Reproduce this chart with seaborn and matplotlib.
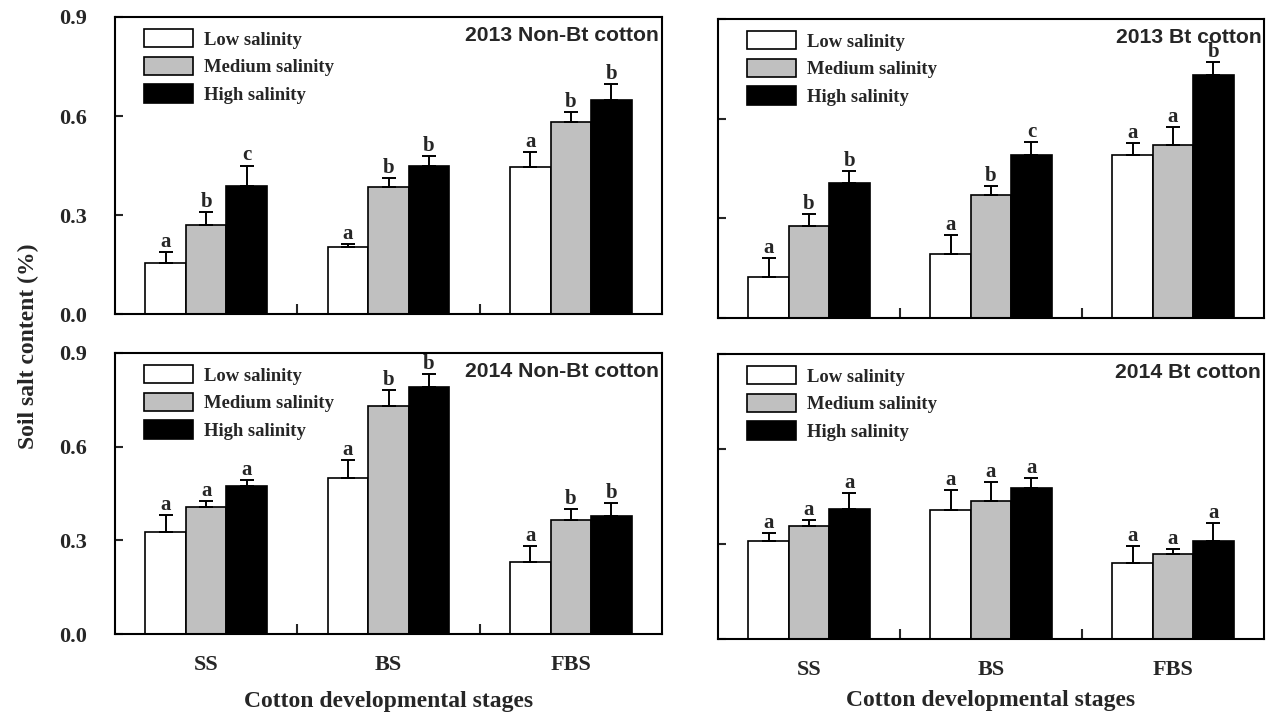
import numpy as np
import pandas as pd
import matplotlib
matplotlib.use("Agg")
import matplotlib.pyplot as plt
import seaborn as sns
from matplotlib.patches import Patch

# ---------------- data ----------------
stages = ["SS", "BS", "FBS"]
salinity_levels = ["Low salinity", "Medium salinity", "High salinity"]
bar_colors = ["#ffffff", "#c0c0c0", "#000000"]
panel_titles = ["2013 Non-Bt cotton", "2013 Bt cotton", "2014 Non-Bt cotton", "2014 Bt cotton"]
yticks = [0.0, 0.3, 0.6, 0.9]

# rows: Low, Medium, High salinity ; columns: SS, BS, FBS
mean_2013_nonbt = [[0.155, 0.203, 0.444], [0.271, 0.386, 0.582], [0.388, 0.448, 0.648]]
err_2013_nonbt = [[0.033, 0.009, 0.047], [0.037, 0.026, 0.030], [0.062, 0.030, 0.048]]
letters_2013_nonbt = [["a", "a", "a"], ["b", "b", "b"], ["c", "b", "b"]]

mean_2013_bt = [[0.123, 0.194, 0.492], [0.278, 0.370, 0.520], [0.405, 0.492, 0.730]]
err_2013_bt = [[0.058, 0.057, 0.034], [0.034, 0.027, 0.056], [0.038, 0.038, 0.042]]
letters_2013_bt = [["a", "a", "a"], ["b", "b", "a"], ["b", "c", "b"]]

mean_2014_nonbt = [[0.328, 0.499, 0.230], [0.407, 0.731, 0.365], [0.473, 0.791, 0.378]]
err_2014_nonbt = [[0.053, 0.057, 0.051], [0.020, 0.051, 0.034], [0.020, 0.041, 0.042]]
letters_2014_nonbt = [["a", "a", "a"], ["a", "b", "b"], ["a", "b", "b"]]

mean_2014_bt = [[0.311, 0.406, 0.241], [0.356, 0.436, 0.268], [0.409, 0.478, 0.309]]
err_2014_bt = [[0.023, 0.063, 0.052], [0.021, 0.061, 0.016], [0.051, 0.030, 0.056]]
letters_2014_bt = [["a", "a", "a"], ["a", "a", "a"], ["a", "a", "a"]]

panel_means = [mean_2013_nonbt, mean_2013_bt, mean_2014_nonbt, mean_2014_bt]
panel_errs = [err_2013_nonbt, err_2013_bt, err_2014_nonbt, err_2014_bt]
panel_letters = [letters_2013_nonbt, letters_2013_bt, letters_2014_nonbt, letters_2014_bt]

# ---------------- style ----------------
sns.set_style("white")
SERIF = ["Liberation Serif", "DejaVu Serif"]
SANS = ["Liberation Sans", "DejaVu Sans"]
plt.rcParams["font.family"] = SERIF
plt.rcParams["font.weight"] = "bold"
plt.rcParams["axes.labelweight"] = "bold"
plt.rcParams["axes.edgecolor"] = "black"
plt.rcParams["axes.linewidth"] = 1.5

W, H = 1276, 713
fig = plt.figure(figsize=(W / 100, H / 100), dpi=100)

# pixel boxes: left, right, top, bottom
boxes = [(115, 662, 17, 314), (718, 1264, 19, 318), (115, 662, 353, 634), (718, 1264, 354, 639)]
xlabel_pads = [0, 0, 12, 7]

for p in range(4):
    l, r, t, b = boxes[p]
    ax = fig.add_axes([l / W, 1 - b / H, (r - l) / W, (b - t) / H])
    rows = []
    for hi, sal in enumerate(salinity_levels):
        for si, st in enumerate(stages):
            rows.append({"stage": st, "salinity": sal, "value": panel_means[p][hi][si]})
    df = pd.DataFrame(rows)
    sns.barplot(data=df, x="stage", y="value", hue="salinity", order=stages,
                hue_order=salinity_levels, palette=bar_colors, saturation=1,
                edgecolor="black", linewidth=1.2, width=0.667, errorbar=None,
                legend=False, ax=ax, zorder=2)
    bar_containers = list(ax.containers)
    for hi, cont in enumerate(bar_containers):
        xs, ys, es, labs = [], [], [], []
        for bar in cont:
            x = bar.get_x() + bar.get_width() / 2
            si = int(round(x))
            xs.append(x)
            ys.append(bar.get_height())
            es.append(panel_errs[p][hi][si])
            labs.append(panel_letters[p][hi][si])
        ax.errorbar(xs, ys, yerr=[np.zeros(len(es)), es], fmt="none", ecolor="black",
                    elinewidth=1.4, capsize=5, capthick=1.4, zorder=3)
        for x, y, e, lab in zip(xs, ys, es, labs):
            ax.annotate(lab, (x, y + e), xytext=(0, 0), textcoords="offset points",
                        ha="center", va="bottom", fontsize=15, fontweight="bold", family=SERIF)

    ax.set_ylim(0, 0.9)
    ax.set_xlim(-0.5, 2.5)
    ax.set_yticks(yticks)
    ax.set_yticklabels([f"{v:.1f}" for v in yticks])
    is_left = p in (0, 2)
    is_bottom = p in (2, 3)
    ax.tick_params(axis="y", direction="in", length=6, width=1.5, labelsize=16, pad=20,
                   left=True, right=False, labelleft=is_left)
    ax.tick_params(axis="x", which="major", length=0, labelsize=16, pad=15,
                   labelbottom=is_bottom)
    ax.set_xticks([0.5, 1.5], minor=True)
    ax.tick_params(axis="x", which="minor", direction="in", length=7, width=1.5, bottom=True)
    ax.set_ylabel("")
    if is_bottom:
        ax.set_xlabel("Cotton developmental stages", fontsize=17, fontweight="bold",
                      labelpad=xlabel_pads[p])
    else:
        ax.set_xlabel("")
    for s in ax.spines.values():
        s.set_visible(True)
        s.set_linewidth(1.5)
        s.set_color("black")

    ax.annotate(panel_titles[p], (1, 1), xycoords="axes fraction", xytext=(-2, -13),
                textcoords="offset points", ha="right", va="center", fontsize=15.2,
                fontweight="bold", family=SANS)

    handles = [Patch(facecolor=c, edgecolor="black", linewidth=1.2, label=lab)
               for c, lab in zip(bar_colors, salinity_levels)]
    ax.legend(handles=handles, loc="upper left",
              bbox_to_anchor=(29 / (r - l), 1 - 12 / (b - t)), bbox_transform=ax.transAxes,
              frameon=False, fontsize=13.4, handlelength=2.65, handleheight=1.15,
              handletextpad=0.6, labelspacing=0.44, borderpad=0, borderaxespad=0)

fig.text(28 / W, 1 - 346 / H, "Soil salt content (%)", rotation=90, ha="center", va="center",
         fontsize=17, fontweight="bold")

fig.savefig("out.png", dpi=100)
